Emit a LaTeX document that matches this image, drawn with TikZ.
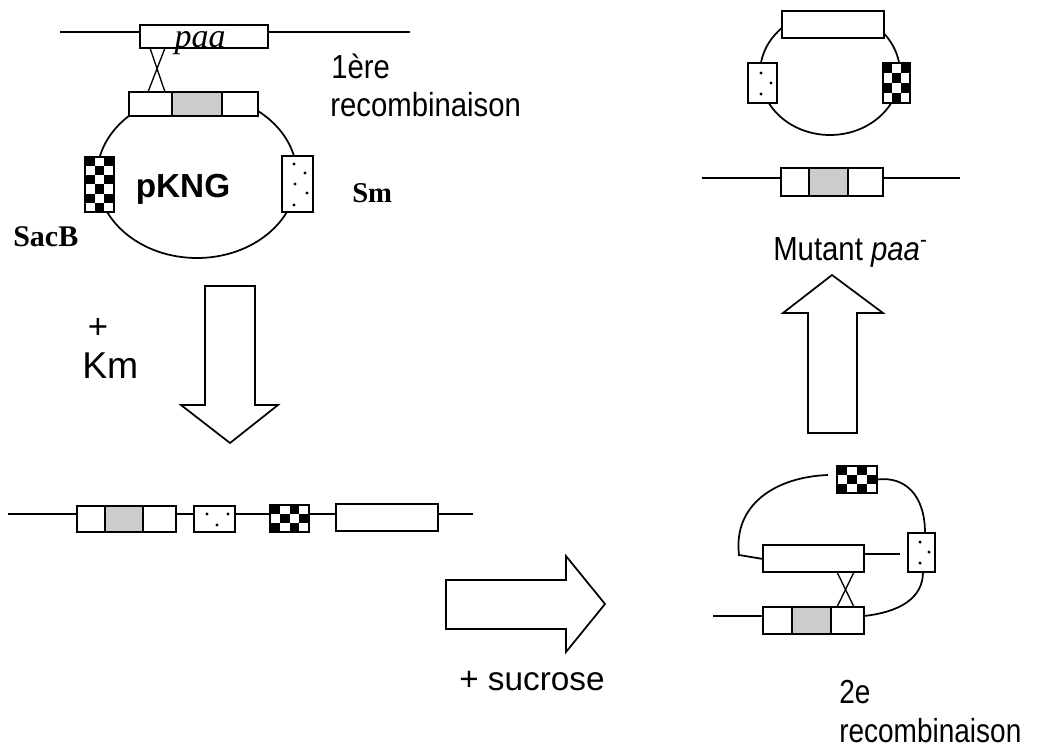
\documentclass[tikz,border=0pt]{standalone}
\usepackage{fontspec}
\setmainfont{Liberation Serif}
\newfontfamily\labA[FakeStretch=0.88]{Liberation Sans}
\newfontfamily\labB[FakeStretch=0.84]{Liberation Sans}
\newfontfamily\labW{Liberation Sans}
\usetikzlibrary{calc}

\tikzset{
  gene/.style={draw, line width=1.3pt, fill=white, rectangle, inner sep=0pt, outer sep=0pt},
  dna/.style={line width=1.3pt},
  bigarrow/.style={draw, line width=1.3pt, line join=miter, fill=white},
  lbl/.style={inner sep=0pt, anchor=base west},
  graybox/.style={fill=black!20},
}

% gene box from its corners: name, x1, y1, x2, y2, extra style
\newcommand\gbox[6]{%
  \node[gene,#6,minimum width={(#4-#2)*0.75pt},minimum height={(#5-#3)*0.75pt}]
    (#1) at ({(#2+#4)/2},{(#3+#5)/2}) {};}

% checkered marker box: name, x1, y1, x2, y2, columns, rows
\newcommand\chk[7]{%
  \gbox{#1}{#2}{#3}{#4}{#5}{}%
  \pgfmathsetmacro\ckw{(#4-#2)/#6}%
  \pgfmathsetmacro\ckh{(#5-#3)/#7}%
  \foreach \i in {1,...,#6}{\foreach \j in {1,...,#7}{%
    \pgfmathtruncatemacro\cpar{mod(\i+\j,2)}%
    \ifnum\cpar=0 \fill ({#2+(\i-1)*\ckw},{#3+(\j-1)*\ckh}) rectangle ++(\ckw,\ckh);\fi}}%
  \draw[line width=1.3pt] (#1.north west) rectangle (#1.south east);}

% single dot inside a dotted marker
\newcommand\dt[2]{\fill (#1,#2) circle[radius=1.3pt];}

\begin{document}
\begin{tikzpicture}[x=0.75pt,y=-0.75pt]
\fill[white] (0,0) rectangle (1041,752);
\useasboundingbox (0,0) rectangle (1041,752);

% ---------- first recombination: chromosome and pKNG ----------
\draw[dna] (197,176) ellipse [x radius=100, y radius=82];
\coordinate (Ltop) at (60,32);
\coordinate (Rtop) at (410,32);
\gbox{P}{140}{25}{268}{48}{}
\draw[dna] (Ltop) -- (Ltop -| P.west);
\draw[dna] (P.east |- Rtop) -- (Rtop);
\node[inner sep=0pt, anchor=base, font=\itshape\fontsize{25.5}{30}\selectfont] (paa) at (200,48) {paa};

\gbox{K1}{129}{92}{172}{116}{}
\gbox{K2}{172}{92}{222}{116}{graybox}
\gbox{K3}{222}{92}{258}{116}{}
\draw[dna, line width=1pt] ($(P.south west)+(10,0)$) -- ($(K1.north west)+(36,0)$);
\draw[dna, line width=1pt] ($(P.south west)+(25,0)$) -- ($(K1.north west)+(19,0)$);

\chk{SacB}{85}{157}{114}{212}{3}{6}
\gbox{Sm}{282}{156}{313}{212}{}
\dt{294}{164}\dt{305}{173}\dt{295}{184}\dt{307}{193}\dt{294}{205}

\node[inner sep=0pt, anchor=base, font=\labW\bfseries\fontsize{25}{30}\selectfont] (pk) at (183,198) {pKNG};
\node[inner sep=0pt, anchor=base west, font=\bfseries\fontsize{21.5}{25}\selectfont] (smt) at (352,203) {Sm};
\node[inner sep=0pt, anchor=base west, font=\bfseries\fontsize{22.5}{25}\selectfont] (sbt) at (13,247) {SacB};
\node[lbl, font=\labA\fontsize{25}{30}\selectfont] (r1a) at (331,79) {1ère};
\node[lbl, font=\labA\fontsize{25}{30}\selectfont] (r1b) at (330,117) {recombinaison};

% ---------- selection on Km ----------
\draw[bigarrow] (205,286) -- (255,286) -- (255,405) -- (278,405) -- (230,443)
  -- (181,405) -- (205,405) -- cycle;
\node[inner sep=0pt, anchor=center, font=\labW\fontsize{26}{30}\selectfont] (plus) at (98,328) {+};
\node[lbl, font=\labW\fontsize{28}{32}\selectfont] (km) at (82,378) {Km};

% ---------- integrated plasmid ----------
\coordinate (L0) at (8,514);
\coordinate (L9) at (473,514);
\gbox{a1}{77}{506}{105}{532}{}
\gbox{a2}{105}{506}{143}{532}{graybox}
\gbox{a3}{143}{506}{176}{532}{}
\gbox{d1}{194}{506}{235}{532}{}
\dt{207}{514}\dt{228}{514}\dt{217}{525}
\chk{c1}{270}{505}{309}{532}{4}{3}
\gbox{e1}{336}{504}{438}{531}{}
\draw[dna] (L0) -- (L0 -| a1.west);
\draw[dna] (a3.east |- L0) -- (d1.west |- L0);
\draw[dna] (d1.east |- L0) -- (c1.west |- L0);
\draw[dna] (c1.east |- L0) -- (e1.west |- L0);
\draw[dna] (e1.east |- L0) -- (L9);

% ---------- sucrose ----------
\draw[bigarrow] (446,580) -- (566,580) -- (566,556) -- (605,604) -- (566,652)
  -- (566,629) -- (446,629) -- cycle;
\node[lbl, font=\labW\fontsize{25}{30}\selectfont] (suc) at (459,690) {+ sucrose};

% ---------- second recombination ----------
\coordinate (Lb) at (713,616);
\coordinate (Ub) at (900,554);
\coordinate (Cf) at (828,475);
\coordinate (Cb) at (739,555);
\draw[dna] (Cf) .. controls (775,477) and (733,505) .. (Cb) -- (763,559);
\gbox{U}{763}{545}{864}{572}{}
\gbox{B1}{763}{607}{792}{634}{}
\gbox{B2}{792}{607}{831}{634}{graybox}
\gbox{B3}{831}{607}{864}{634}{}
\gbox{D2}{908}{533}{935}{572}{}
\dt{920}{542}\dt{929}{552}\dt{920}{563}
\chk{C2}{837}{466}{877}{493}{4}{3}
\draw[dna] (Lb) -- (Lb -| B1.west);
\draw[dna] (U.east |- Ub) -- (Ub);
\draw[dna] (B3.east |- Lb) .. controls (900,612) and (923,598) .. (D2.south -| 923,0);
\draw[dna] (D2.north -| 925,0) .. controls (925,495) and (905,476) .. (C2.east);
\draw[dna, line width=1pt] ($(U.south west)+(74,0)$) -- ($(B3.north west)+(23,0)$);
\draw[dna, line width=1pt] ($(U.south west)+(91,0)$) -- ($(B3.north west)+(6,0)$);
\node[lbl, font=\labB\fontsize{25}{30}\selectfont] (r2a) at (839,703) {2e};
\node[lbl, font=\labB\fontsize{25}{30}\selectfont] (r2b) at (839,742) {recombinaison};

% ---------- excised plasmid and mutant ----------
\draw[bigarrow] (808,433) -- (857,433) -- (857,313) -- (883,313) -- (832,275)
  -- (783,313) -- (808,313) -- cycle;
\node[lbl, font=\labA\fontsize{25}{30}\selectfont] (mut) at (773,260) {Mutant \textit{paa}\textsuperscript{-}};

\coordinate (Lr) at (702,178);
\coordinate (Rr) at (960,178);
\draw[dna] (830,73) ellipse [x radius=70, y radius=62];
\gbox{T}{782}{11}{884}{38}{}
\gbox{D3}{748}{63}{777}{103}{}
\dt{761}{73}\dt{771}{83}\dt{761}{94}
\chk{C3}{883}{63}{910}{103}{3}{4}
\gbox{M1}{781}{168}{809}{196}{}
\gbox{M2}{809}{168}{848}{196}{graybox}
\gbox{M3}{848}{168}{883}{196}{}
\draw[dna] (Lr) -- (Lr -| M1.west);
\draw[dna] (M3.east |- Rr) -- (Rr);
\end{tikzpicture}
\end{document}
